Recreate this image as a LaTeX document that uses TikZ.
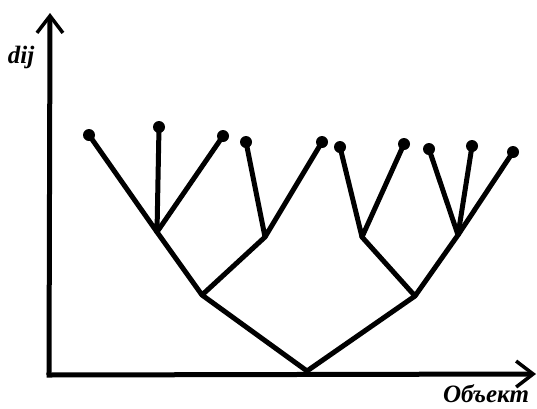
\documentclass[tikz,border=0pt]{standalone}
\usepackage{fontspec}
\setmainfont{Liberation Serif}
\usetikzlibrary{arrows.meta}
\begin{document}
\begin{tikzpicture}[x=1pt,y=-1pt,
  branch/.style={line width=5pt, line cap=round, line join=round},
  leaf/.style={circle, fill=black, inner sep=0pt, minimum size=12pt},
  axis/.style={line width=5pt, -{Straight Barb[length=17pt, width=26pt, line width=3.5pt]}},
  lbl/.style={font=\fontsize{25}{30}\selectfont\bfseries\itshape, inner sep=0pt}]
\useasboundingbox (0,0) rectangle (537,408);
% axes
\coordinate (O) at (49,375);
\coordinate (ytip) at (50,13);
\coordinate (xtip) at (536,374);
\draw[axis] (O) -- (ytip);
\draw[axis] ([xshift=-2.5pt]O) -- (xtip);
\node[lbl] (ylab) at (21,57) {dij};
\node[lbl] (xlab) at (486,394) {Объект};
% internal points
\coordinate (r) at (307,371);
\coordinate (a) at (202,295);
\coordinate (b) at (415,296);
\coordinate (aa) at (157,232);
\coordinate (ab) at (265,237);
\coordinate (ba) at (362,237);
\coordinate (bb) at (458,235);
% leaves
\node[leaf] (l1) at (89,135) {};
\node[leaf] (l2) at (159,127) {};
\node[leaf] (l3) at (223,136) {};
\node[leaf] (l4) at (246,142) {};
\node[leaf] (l5) at (322,142) {};
\node[leaf] (l6) at (340,147) {};
\node[leaf] (l7) at (404,144) {};
\node[leaf] (l8) at (429,149) {};
\node[leaf] (l9) at (472,146) {};
\node[leaf] (l10) at (513,152) {};
% branches
\draw[branch] (a) -- (r) -- (b);
\draw[branch] (aa) -- (a) -- (ab);
\draw[branch] (ba) -- (b) -- (bb);
\draw[branch] (l1.center) -- (aa) -- (l2.center);
\draw[branch] (l3.center) -- (aa);
\draw[branch] (l4.center) -- (ab) -- (l5.center);
\draw[branch] (l6.center) -- (ba) -- (l7.center);
\draw[branch] (l8.center) -- (bb) -- (l9.center);
\draw[branch] (l10.center) -- (bb);
\end{tikzpicture}
\end{document}
